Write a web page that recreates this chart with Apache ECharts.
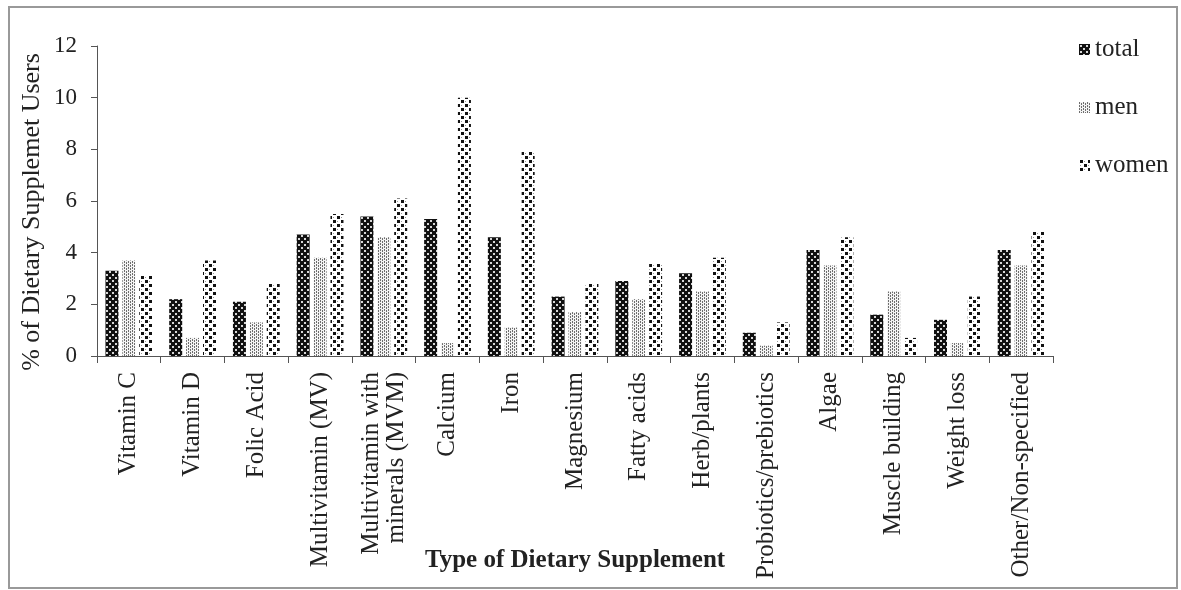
<!DOCTYPE html>
<html>
<head>
<meta charset="utf-8">
<script src="https://cdn.jsdelivr.net/npm/echarts@6/dist/echarts.min.js"></script>
<style>
  html, body { margin: 0; padding: 0; background: #fff; }
  #chart { width: 1181px; height: 590px; }
</style>
</head>
<body>
<div id="chart"></div>
<script>
// categories
const categories = [
  'Vitamin C', 'Vitamin D', 'Folic Acid', 'Multivitamin (MV)',
  'Multivitamin with\nminerals (MVM)', 'Calcium', 'Iron', 'Magnesium',
  'Fatty acids', 'Herb/plants', 'Probiotics/prebiotics', 'Algae',
  'Muscle building', 'Weight loss', 'Other/Non-specified'
]

// series values (% of dietary supplement users)
const totalData = [3.3, 2.2, 2.1, 4.7, 5.4, 5.3, 4.6, 2.3, 2.9, 3.2, 0.9, 4.1, 1.6, 1.4, 4.1]
const menData = [3.7, 0.7, 1.3, 3.8, 4.6, 0.5, 1.1, 1.7, 2.2, 2.5, 0.4, 3.5, 2.5, 0.5, 3.5]
const womenData = [3.1, 3.7, 2.8, 5.5, 6.1, 10.0, 7.9, 2.8, 3.6, 3.8, 1.3, 4.6, 0.7, 2.3, 4.8]

const yTicks = [0, 2, 4, 6, 8, 10, 12]

const font = '"Liberation Serif", "DejaVu Serif", serif'

// 填充图案
const makePattern = (w, h, draw) => {
  const c = document.createElement('canvas')
  c.width = w
  c.height = h
  const ctx = c.getContext('2d')
  draw(ctx)
  return { image: c, repeat: 'repeat' }
}

const totalPattern = makePattern(6, 6, ctx => {
  ctx.fillStyle = '#111'
  ctx.fillRect(0, 0, 6, 6)
  ctx.fillStyle = '#d8d8d8'
  ctx.fillRect(1, 1, 2, 2)
  ctx.fillRect(4, 4, 2, 2)
})

const menPattern = makePattern(4, 3, ctx => {
  ctx.fillStyle = '#f4f4f4'
  ctx.fillRect(0, 0, 4, 3)
  ctx.fillStyle = '#6e6e6e'
  ctx.fillRect(0, 0, 1, 2)
  ctx.fillRect(2, 1, 1, 2)
})

const womenPattern = makePattern(8, 8, ctx => {
  ctx.fillStyle = '#fff'
  ctx.fillRect(0, 0, 8, 8)
  ctx.fillStyle = '#111'
  ctx.fillRect(1, 0, 3, 3)
  ctx.fillRect(5, 4, 3, 3)
  ctx.fillStyle = '#999'
  ctx.fillRect(5, 1, 1, 1)
  ctx.fillRect(1, 5, 1, 1)
})

const chart = echarts.init(document.getElementById('chart'))

const barSeries = (name, data, color) => ({
  name,
  type: 'bar',
  data,
  barWidth: 13,
  barGap: '30%',
  itemStyle: { color },
  emphasis: { disabled: true }
})

chart.setOption({
  animation: false,
  graphic: [{
    type: 'rect',
    shape: { x: 9, y: 7, width: 1168, height: 581 },
    style: { fill: 'none', stroke: '#999', lineWidth: 2 },
    silent: true
  }],
  legend: {
    orient: 'vertical',
    left: 1074,
    top: 32,
    itemWidth: 11,
    itemHeight: 11,
    itemGap: 33,
    icon: 'rect',
    textStyle: { fontFamily: font, fontSize: 25, color: '#222', padding: [0, 0, 0, 0] },
    data: ['total', 'men', 'women']
  },
  grid: {
    left: 97,
    right: 128,
    top: 46,
    bottom: 234,
    outerBoundsMode: 'none',
    containLabel: false
  },
  xAxis: {
    type: 'category',
    data: categories,
    name: 'Type of Dietary Supplement',
    nameLocation: 'middle',
    nameGap: 192,
    nameMoveOverlap: false,
    nameTextStyle: { fontFamily: font, fontSize: 25, fontWeight: 'bold', color: '#222' },
    axisLine: { lineStyle: { color: '#555', width: 1 } },
    axisTick: { show: true, length: 7, interval: 0, lineStyle: { color: '#555' } },
    axisLabel: {
      interval: 0,
      rotate: 90,
      margin: 16,
      fontFamily: font,
      fontSize: 25,
      lineHeight: 25,
      color: '#222'
    }
  },
  yAxis: {
    type: 'value',
    min: yTicks[0],
    max: yTicks[yTicks.length - 1],
    interval: 2,
    name: '% of Dietary Supplemet Users',
    nameLocation: 'middle',
    nameGap: 52,
    nameMoveOverlap: false,
    nameTextStyle: { fontFamily: font, fontSize: 26, color: '#222', padding: [0, 22, 0, 0] },
    axisLine: { show: true, lineStyle: { color: '#555', width: 1 } },
    axisTick: { show: true, length: 6, lineStyle: { color: '#555' } },
    splitLine: { show: false },
    axisLabel: {
      margin: 20,
      fontFamily: font,
      fontSize: 23,
      color: '#222'
    }
  },
  series: [
    barSeries('total', totalData, totalPattern),
    barSeries('men', menData, menPattern),
    barSeries('women', womenData, womenPattern)
  ]
})
</script>
</body>
</html>
